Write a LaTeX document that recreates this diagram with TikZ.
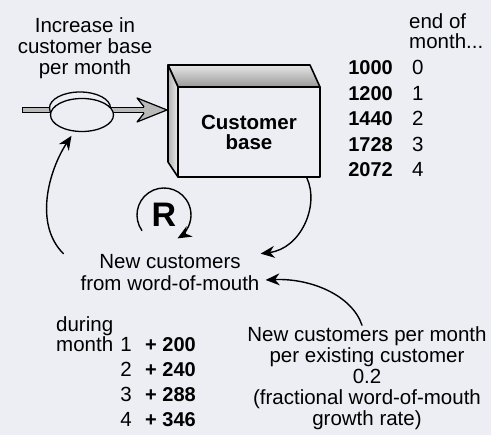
\documentclass[tikz,border=0pt]{standalone}
\usepackage{fontspec}
\setmainfont{Liberation Sans}
\usetikzlibrary{arrows.meta,shapes.geometric,positioning}
\definecolor{paper}{RGB}{237,238,244}
\tikzset{
  txt/.style={font=\fontsize{20.5}{21}\selectfont, inner sep=1pt, align=center},
  num/.style={font=\fontsize{20}{20}\selectfont\bfseries, inner sep=0pt},
  boxline/.style={line width=1.6pt},
  link/.style={->, line width=1.4pt},
}
\begin{document}
\begin{tikzpicture}[x=1pt, y=1pt, line join=round, line cap=round, >={Stealth[length=14pt,width=12pt]}]
\fill[paper] (0,0) rectangle (491,435);
\useasboundingbox (0,0) rectangle (491,435);
\shade[top color=gray!20, bottom color=gray!80] (168,370) -- (310,370) -- (320,348) -- (178,348) -- cycle;
\draw[boxline] (168,370) -- (310,370) -- (320,348) -- (178,348) -- cycle;
\shade[left color=gray!60, right color=gray!15] (168,370) -- (178,348) -- (178,258) -- (168,273) -- cycle;
\draw[boxline] (168,370) -- (178,348) -- (178,258) -- (168,273) -- cycle;
\node[boxline, draw, fill=paper, minimum width=142, minimum height=90, txt, font=\fontsize{20.5}{20}\selectfont\bfseries] (stock) at (249,303) {Customer\\base};
\coordinate (src) at (22,325);
\coordinate (pin) at (167,325);
\draw[line width=6.5pt, line cap=butt] (src) -- ([xshift=-23pt]pin);
\draw[line width=4pt, line cap=butt, gray!55] ([xshift=1.3pt]src) -- ([xshift=-22pt]pin);
\fill[gray!55] (pin) -- ++(-30,12) -- ++(7,-8.75) -- ++(0,-6.5) -- ++(-7,-8.75) -- cycle;
\draw[line width=1.2pt] (pin) -- ++(-30,12) -- ++(7,-8.75) ++(0,-6.5) -- ++(-7,-8.75) -- (pin);
\draw[line width=1.3pt, fill=paper] (80,327) ellipse [x radius=30.5, y radius=16];
\node[ellipse, draw, line width=1.3pt, fill=paper, minimum width=63, minimum height=33, inner sep=0pt] (valve) at (82,320) {};
\node[txt] (inc) at (85,387) {Increase in\\customer base\\per month};
\node[inner sep=0pt, font=\fontsize{34}{34}\selectfont\bfseries] (loop) at (164,220) {R};
\draw[link] ([shift={(215:27)}]loop.center) arc[start angle=215, end angle=-60, radius=27];
\node[txt, font=\fontsize{20.5}{22}\selectfont] (wom) at (170,162) {New customers\\from word-of-mouth};
\node[txt] (rate) at (367,57) {New customers per month\\per existing customer\\0.2\\(fractional word-of-mouth\\growth rate)};
\draw[link] ([xshift=-14pt]stock.south east) .. controls +(13,-28) and +(40,5) .. (wom.north east);
\draw[link] ([xshift=-5pt]rate.north) .. controls +(-10,30) and +(45,2) .. ([shift={(5,-7)}]wom.east);
\draw[link, shorten >=5pt] ([xshift=-16pt]wom.north west) .. controls +(-30,30) and +(-25,-38) .. (valve.245);
\node[txt, anchor=base west] (endof) at (408,406) {end of};
\node[txt, anchor=base west] (endmon) at (408,386) {month...};
\foreach \v/\m in {1000/0,1200/1,1440/2,1728/3,2072/4}{
  \node[num, anchor=base east] (val\m) at (393,{360-25.5*\m}) {\v};
  \node[txt, inner sep=0pt, anchor=base west] (eom\m) at (412,{360-25.5*\m}) {\m};
}
\node[txt, anchor=base west] (during) at (55,103) {during};
\node[txt, anchor=base west] (mon) at (55,83) {month};
\foreach \d/\n in {1/200,2/240,3/288,4/346}{
  \node[txt, inner sep=0pt, anchor=base] (dm\d) at (126,{108-25*\d}) {\d};
  \node[num, anchor=base west] (add\d) at (145,{108-25*\d}) {+ \n};
}
\end{tikzpicture}
\end{document}
